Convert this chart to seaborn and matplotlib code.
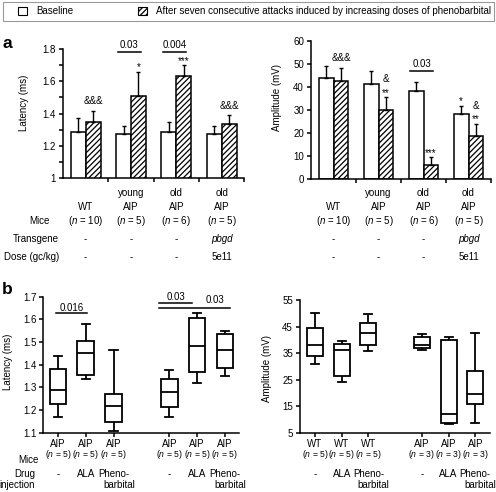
import numpy as np
import pandas as pd
import matplotlib
matplotlib.use("Agg")
import matplotlib.pyplot as plt
import matplotlib.transforms as mtransforms
from matplotlib.patches import Patch, Rectangle
import seaborn as sns

# ------------------------------------------------------------------ data
groups_a = ["WT", "young AIP", "old AIP", "old AIP pbgd"]
cond_names = ["Baseline",
              "After seven consecutive attacks induced by increasing doses of phenobarbital"]

lat_base = [1.285, 1.275, 1.285, 1.275]
lat_base_err = [0.088, 0.045, 0.061, 0.045]
lat_after = [1.350, 1.508, 1.633, 1.335]
lat_after_err = [0.067, 0.152, 0.067, 0.053]

amp_base = [44.0, 41.5, 38.3, 28.2]
amp_base_err = [5.3, 5.6, 4.0, 3.8]
amp_after = [42.8, 30.0, 6.2, 19.0]
amp_after_err = [5.6, 5.5, 3.4, 5.2]

# labels under panel a
a_top = ["", "young", "old", "old"]
a_mid = ["WT", "AIP", "AIP", "AIP"]
a_n = [10, 5, 6, 5]
a_transgene = ["-", "-", "-", "pbgd"]
a_dose = ["-", "-", "-", "5e11"]

# significance annotations (group, condition, stacked labels)
lat_marks = [(0, 1, ["&&&"]), (1, 1, ["*"]), (2, 1, ["***"]), (3, 1, ["&&&"])]
lat_brackets = [(1, 1.78, "0.03"), (2, 1.78, "0.004")]
amp_marks = [(0, 1, ["&&&"]), (1, 1, ["**", "&"]), (2, 1, ["***"]),
             (3, 0, ["*"]), (3, 1, ["**", "&"])]
amp_brackets = [(2, 47.0, "0.03")]

# panel b: five-number summaries (whisker low, Q1, median, Q3, whisker high)
b_lat_names = ["AIP -", "AIP ALA", "AIP Pheno", "AIP2 -", "AIP2 ALA", "AIP2 Pheno"]
b_lat_stats = [
    [1.170, 1.226, 1.288, 1.380, 1.438],
    [1.335, 1.354, 1.450, 1.505, 1.579],
    [1.109, 1.148, 1.218, 1.272, 1.467],
    [1.168, 1.215, 1.278, 1.337, 1.376],
    [1.318, 1.366, 1.482, 1.607, 1.626],
    [1.351, 1.384, 1.467, 1.536, 1.548],
]
b_amp_names = ["WT -", "WT ALA", "WT Pheno", "AIP -", "AIP ALA", "AIP Pheno"]
b_amp_stats = [
    [30.8, 33.9, 38.1, 44.4, 50.0],
    [24.0, 26.4, 36.2, 38.5, 39.7],
    [35.6, 38.1, 42.7, 46.5, 49.7],
    [36.2, 37.1, 38.1, 40.9, 42.1],
    [8.2, 8.8, 11.9, 40.0, 40.9],
    [8.8, 15.7, 19.5, 28.3, 42.7],
]
b_lat_mice = ["AIP"] * 6
b_amp_mice = ["WT", "WT", "WT", "AIP", "AIP", "AIP"]
b_lat_n = [5] * 6
b_amp_n = [5, 5, 5, 3, 3, 3]
b_drug = ["-", "ALA", "Pheno-", "-", "ALA", "Pheno-"]
b_lat_brackets = [((-0.07, 1.05), 1.626, "0.016", 0.5, 2.0),
                  ((3.63, 4.81), 1.673, "0.03", 4.24, 2.5),
                  ((3.63, 6.19), 1.648, "0.03", 5.65, 5.0)]

# ------------------------------------------------------------------ style
plt.rcParams["font.family"] = ["Liberation Sans", "DejaVu Sans"]
plt.rcParams["mathtext.fontset"] = "custom"
plt.rcParams["mathtext.rm"] = "Liberation Sans"
plt.rcParams["mathtext.it"] = "Liberation Sans:italic"
plt.rcParams["hatch.linewidth"] = 0.9
FS = 7.0
FS_N = 6.2
HATCH = "//////"
LW = 1.1

W, H = 496, 492
fig = plt.figure(figsize=(W / 100, H / 100), dpi=100)


def rect(l, t, r, b):
    return [l / W, 1 - b / H, (r - l) / W, (b - t) / H]


def fx(x):
    return x / W


def fy(y):
    return 1 - y / H


ax1 = fig.add_axes(rect(63, 49, 244.3, 178))
ax2 = fig.add_axes(rect(311, 41, 491, 179.3))
ax3 = fig.add_axes(rect(43.3, 296.7, 239.3, 432.7))
ax4 = fig.add_axes(rect(300, 300, 490, 432.7))

for ax in (ax1, ax2, ax3, ax4):
    for s in ("top", "right"):
        ax.spines[s].set_visible(False)
    for s in ("left", "bottom"):
        ax.spines[s].set_linewidth(LW)
    ax.tick_params(direction="out", length=3, width=LW, labelsize=FS, pad=2)


def bar_panel(ax, base, base_err, after, after_err, marks, brackets, ylabel):
    df = pd.DataFrame({
        "group": groups_a * 2,
        "cond": [cond_names[0]] * 4 + [cond_names[1]] * 4,
        "value": list(base) + list(after),
    })
    sns.barplot(data=df, x="group", y="value", hue="cond", order=groups_a,
                hue_order=cond_names, palette=["white", "white"], saturation=1,
                errorbar=None, width=0.66, edgecolor="black", linewidth=LW,
                legend=False, ax=ax)
    errs = [base_err, after_err]
    tops = {}
    bar_conts = list(ax.containers)
    for ci, cont in enumerate(bar_conts):
        xs, ys = [], []
        for gi, bar in enumerate(cont.patches):
            if ci == 1:
                bar.set_hatch(HATCH)
            x = bar.get_x() + bar.get_width() / 2
            y = bar.get_height()
            xs.append(x)
            ys.append(y)
            tops[(gi, ci)] = (x, y + errs[ci][gi])
        ax.errorbar(xs, ys, yerr=[np.zeros(len(xs)), errs[ci]], fmt="none",
                    ecolor="black", elinewidth=1.0, capsize=1.7, capthick=1.0,
                    zorder=3)
    for gi, ci, labels in marks:
        x, y = tops[(gi, ci)]
        for k, lab in enumerate(labels):
            off_px = (1.0 if "*" in lab else 6.5) + k * 8.5
            ax.annotate(lab, (x, y), xytext=(0, off_px * 0.72),
                        textcoords="offset points", ha="center", va="baseline",
                        fontsize=FS)
    for gi, y, lab in brackets:
        ax.plot([gi - 0.29, gi + 0.22], [y, y], color="black", lw=LW,
                clip_on=False)
        ax.annotate(lab, (gi - 0.035, y), xytext=(0, 4 * 0.72),
                    textcoords="offset points", ha="center", va="baseline",
                    fontsize=FS, annotation_clip=False)
    ax.set_xlim(-0.5, 3.5)
    ax.set_xticks([0.5, 1.5, 2.5, 3.5])
    ax.set_xticklabels([])
    ax.set_xlabel("")
    ax.set_ylabel(ylabel, fontsize=FS, va="center")


bar_panel(ax1, lat_base, lat_base_err, lat_after, lat_after_err,
          lat_marks, lat_brackets, "Latency (ms)")
ax1.set_ylim(1.0, 1.8)
ax1.set_yticks([1.0, 1.2, 1.4, 1.6, 1.8])
ax1.set_yticklabels(["1", "1.2", "1.4", "1.6", "1.8"])
ax1.set_yticks([1.1, 1.3, 1.5, 1.7], minor=True)
ax1.tick_params(axis="y", which="minor", direction="out", length=3, width=LW)
ax1.yaxis.set_label_coords(fx(24), fy(103), transform=fig.transFigure)

bar_panel(ax2, amp_base, amp_base_err, amp_after, amp_after_err,
          amp_marks, amp_brackets, "Amplitude (mV)")
ax2.set_ylim(0, 60)
ax2.set_yticks(np.arange(0, 61, 10))
ax2.yaxis.set_label_coords(fx(277), fy(97.5), transform=fig.transFigure)


def below(ax, x, ypx, s, fs=FS, **kw):
    tr = mtransforms.blended_transform_factory(ax.transData, fig.transFigure)
    ax.text(x, fy(ypx), s, transform=tr, ha=kw.pop("ha", "center"),
            va="center", fontsize=fs, clip_on=False, **kw)


for ax in (ax1, ax2):
    for i in range(4):
        if a_top[i]:
            below(ax, i, 193, a_top[i])
        below(ax, i, 207, a_mid[i])
        below(ax, i, 220.5, "($\\mathit{n}$ = %d)" % a_n[i])
        below(ax, i, 239, a_transgene[i],
              fontstyle="italic" if a_transgene[i] != "-" else "normal")
        below(ax, i, 257, a_dose[i])

fig.text(fx(50), fy(220.5), "Mice", ha="right", va="center", fontsize=FS)
fig.text(fx(59), fy(239), "Transgene", ha="right", va="center", fontsize=FS)
fig.text(fx(59), fy(257), "Dose (gc/kg)", ha="right", va="center", fontsize=FS)


def box_panel(ax, names, stats, ylabel):
    df = pd.DataFrame({
        "cond": [n for n, s in zip(names, stats) for _ in s],
        "value": [v for s in stats for v in s],
    })
    order = names[:3] + [" "] + names[3:]
    sns.boxplot(data=df, x="cond", y="value", order=order, whis=np.inf,
                width=0.6, color="white", linecolor="black", linewidth=1.3,
                saturation=1, ax=ax)
    ax.set_xticks([0, 1, 2, 4, 5, 6])
    ax.set_xticklabels([])
    ax.set_xlabel("")
    ax.set_ylabel(ylabel, fontsize=FS, va="center")


box_panel(ax3, b_lat_names, b_lat_stats, "Latency (ms)")
ax3.set_xlim(-0.53, 6.52)
ax3.set_ylim(1.1, 1.7)
ax3.set_yticks(np.round(np.arange(1.1, 1.71, 0.1), 1))
ax3.set_yticklabels(["1.1", "1.2", "1.3", "1.4", "1.5", "1.6", "1.7"])
ax3.yaxis.set_label_coords(fx(8), fy(362), transform=fig.transFigure)
for (x0, x1), y, lab, xt, off in b_lat_brackets:
    ax3.plot([x0, x1], [y, y], color="black", lw=LW, clip_on=False)
    ax3.annotate(lab, (xt, y), xytext=(0, off * 0.72), textcoords="offset points",
                 ha="center", va="baseline", fontsize=FS, annotation_clip=False)

box_panel(ax4, b_amp_names, b_amp_stats, "Amplitude (mV)")
ax4.set_xlim(-0.56, 6.55)
ax4.set_ylim(5, 55)
ax4.set_yticks(np.arange(5, 56, 10))
ax4.yaxis.set_label_coords(fx(267), fy(369), transform=fig.transFigure)

pos_b = [0, 1, 2, 4, 5, 6]
for ax, mice, ns in ((ax3, b_lat_mice, b_lat_n), (ax4, b_amp_mice, b_amp_n)):
    for p, m, n, d in zip(pos_b, mice, ns, b_drug):
        below(ax, p, 444.3, m)
        below(ax, p, 454.5, "($\\mathit{n}$ = %d)" % n, fs=FS_N)
        below(ax, p, 474, d)
        if d.startswith("Pheno"):
            below(ax, p + 0.2, 485, "barbital")

fig.text(fx(39), fy(460), "Mice", ha="right", va="center", fontsize=FS)
fig.text(fx(25), fy(474), "Drug", ha="center", va="center", fontsize=FS)
fig.text(fx(-1), fy(485), "injection", ha="left", va="center", fontsize=FS)

# panel letters
fig.text(fx(2.5), fy(44), "a", ha="left", va="center", fontsize=12.5,
         fontweight="bold")
fig.text(fx(1.5), fy(289.5), "b", ha="left", va="center", fontsize=12.5,
         fontweight="bold")

# legend
fig.add_artist(Rectangle((fx(2.5), fy(21)), fx(491), 19 / H,
                         transform=fig.transFigure, fill=False,
                         edgecolor="#9a9a9a", lw=0.8))
handles = [Patch(facecolor="white", edgecolor="black", lw=0.8),
           Patch(facecolor="white", edgecolor="black", lw=0.8, hatch=HATCH)]
fig.legend(handles, cond_names, loc="center left",
           bbox_to_anchor=(fx(18), fy(11.5)), ncol=2, frameon=False,
           fontsize=7, handlelength=0.9, handleheight=0.85, handletextpad=1.0,
           columnspacing=6.6, borderpad=0, borderaxespad=0)

fig.savefig("out.png", dpi=100)
